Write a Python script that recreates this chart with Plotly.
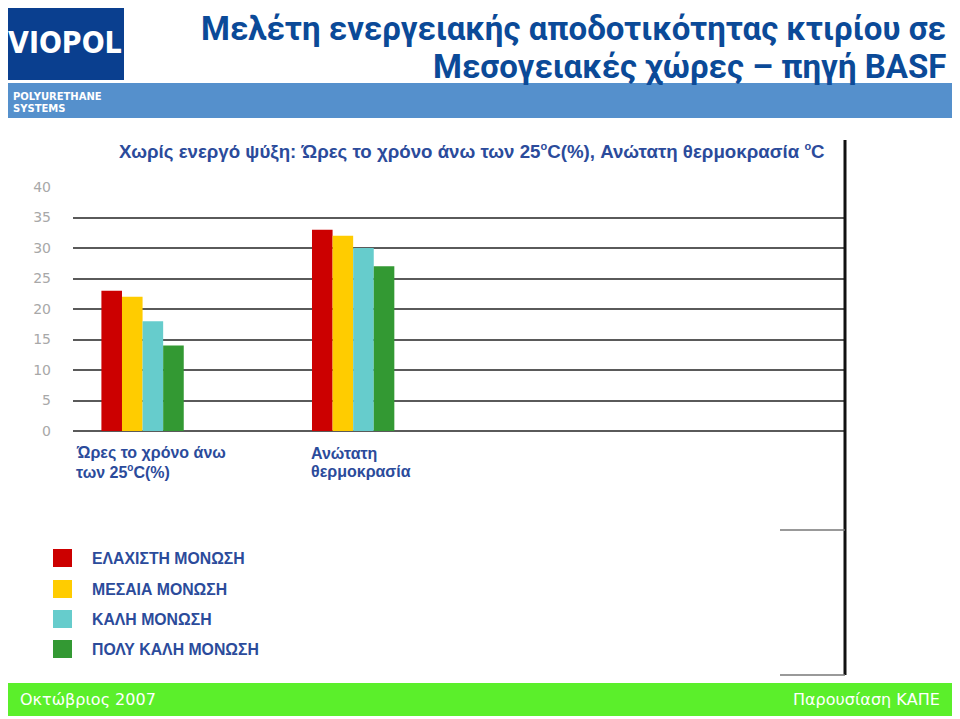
import plotly.graph_objects as go

# ---------------- data ----------------
categories = [["Ώρες το χρόνο άνω", "των 25<sup><span style='font-size:10px'>o</span></sup>C(%)"],
              ["Ανώτατη", "θερμοκρασία"]]
series_names = ["ΕΛΑΧΙΣΤΗ ΜΟΝΩΣΗ", "ΜΕΣΑΙΑ ΜΟΝΩΣΗ", "ΚΑΛΗ ΜΟΝΩΣΗ", "ΠΟΛΥ ΚΑΛΗ ΜΟΝΩΣΗ"]
elaxisti = [23, 33]
mesaia = [22, 32]
kali = [18, 30]
poly_kali = [14, 27]
series_values = [elaxisti, mesaia, kali, poly_kali]
series_colors = ["#CC0000", "#FFCC00", "#66CCCC", "#339933"]
y_ticks = [0, 5, 10, 15, 20, 25, 30, 35, 40]

title_line1 = "Μελέτη ενεργειακής αποδοτικότητας κτιρίου σε"
title_line2 = "Μεσογειακές χώρες – πηγή BASF"
SUP_O = "<sup><span style='font-size:11px'>o</span></sup>"
subtitle = "Χωρίς ενεργό ψύξη: Ώρες το χρόνο άνω των 25" + SUP_O + "C(%), Ανώτατη θερμοκρασία " + SUP_O + "C"
footer_left = "Οκτώβριος 2007"
footer_right = "Παρουσίαση ΚΑΠΕ"

# ---------------- geometry helpers ----------------
# The page body adds an 8px offset, so the figure is 8px smaller and shifted.
OFF = 8
W, H = 960 - OFF, 719 - OFF
L, R, T, B = 73, 845, 187, 431   # plot area in reference (screen) pixels


def px(x):
    return (x - L) / (R - L)


def py(y):
    return (B - y) / (B - T)


BLUE_TXT = "#2B4B9B"
TITLE_BLUE = "#0B4A98"
TXT_FONT = "Liberation Sans, Arial"

fig = go.Figure()
x_idx = list(range(len(categories)))
for name, vals, col in zip(series_names, series_values, series_colors):
    fig.add_trace(go.Bar(x=x_idx, y=vals, name=name, marker=dict(color=col, line=dict(width=0)),
                         showlegend=False))

shapes = []
annotations = []

# top light-blue band
shapes.append(dict(type="rect", xref="paper", yref="paper", x0=px(0), x1=px(957), y0=py(83), y1=py(118),
                   fillcolor="#5590CC", line=dict(width=0), layer="below"))
# logo box
shapes.append(dict(type="rect", xref="paper", yref="paper", x0=px(3), x1=px(124), y0=py(2), y1=py(80),
                   fillcolor="#0A3F8F", line=dict(width=0), layer="below"))
# footer band
shapes.append(dict(type="rect", xref="paper", yref="paper", x0=px(0), x1=px(960), y0=py(683), y1=py(716),
                   fillcolor="#5BEF2B", line=dict(width=0), layer="below"))
# right black frame line
shapes.append(dict(type="line", xref="paper", yref="paper", x0=px(845), x1=px(845), y0=py(140), y1=py(675),
                   line=dict(color="#111111", width=3)))
# short frame lines on right
for yy in (530, 675):
    shapes.append(dict(type="line", xref="paper", yref="paper", x0=px(780), x1=px(845), y0=py(yy), y1=py(yy),
                       line=dict(color="#777777", width=1.5)))

# logo text
annotations.append(dict(text="<b>VIOPOL</b>", xref="paper", yref="paper", x=px(65), y=py(42),
                        xanchor="center", yanchor="middle", showarrow=False,
                        font=dict(family="DejaVu Sans Condensed, DejaVu Sans", size=30, color="white")))
annotations.append(dict(text="<b>POLYURETHANE</b>", xref="paper", yref="paper", x=px(11), y=py(96),
                        xanchor="left", yanchor="middle", showarrow=False,
                        font=dict(family="DejaVu Sans", size=10, color="white")))
annotations.append(dict(text="<b>SYSTEMS</b>", xref="paper", yref="paper", x=px(11), y=py(108),
                        xanchor="left", yanchor="middle", showarrow=False,
                        font=dict(family="DejaVu Sans", size=10, color="white")))

# title
for line, yy in ((title_line1, 28), (title_line2, 67)):
    annotations.append(dict(text="<b>" + line + "</b>", xref="paper", yref="paper", x=px(948), y=py(yy),
                            xanchor="right", yanchor="middle", showarrow=False,
                            font=dict(family="Roboto", size=33, color=TITLE_BLUE)))
# subtitle
annotations.append(dict(text="<b>" + subtitle + "</b>", xref="paper", yref="paper", x=px(117), y=py(151),
                        xanchor="left", yanchor="middle", showarrow=False,
                        font=dict(family=TXT_FONT, size=18.7, color=BLUE_TXT)))

# category labels (left aligned under groups, one annotation per line)
cat_left_px = [74, 309]
cat_line_y = [453, 471]
for lines, lx in zip(categories, cat_left_px):
    for ln, ly in zip(lines, cat_line_y):
        annotations.append(dict(text="<b>" + ln + "</b>", xref="paper", yref="paper", x=px(lx), y=py(ly),
                                xanchor="left", yanchor="middle", align="left", showarrow=False,
                                font=dict(family=TXT_FONT, size=16, color=BLUE_TXT)))

# legend
leg_y = [558, 589, 619, 649]
for name, col, ly in zip(series_names, series_colors, leg_y):
    shapes.append(dict(type="rect", xref="paper", yref="paper", x0=px(53), x1=px(72), y0=py(ly - 9), y1=py(ly + 9),
                       fillcolor=col, line=dict(width=0)))
    annotations.append(dict(text="<b>" + name + "</b>", xref="paper", yref="paper", x=px(90), y=py(ly),
                            xanchor="left", yanchor="middle", showarrow=False,
                            font=dict(family=TXT_FONT, size=15.8, color=BLUE_TXT)))

# footer texts
annotations.append(dict(text=footer_left, xref="paper", yref="paper", x=px(18), y=py(699),
                        xanchor="left", yanchor="middle", showarrow=False,
                        font=dict(family="DejaVu Sans", size=16, color="white")))
annotations.append(dict(text=footer_right, xref="paper", yref="paper", x=px(942), y=py(699),
                        xanchor="right", yanchor="middle", showarrow=False,
                        font=dict(family="DejaVu Sans", size=16, color="white")))

fig.update_layout(
    width=W, height=H,
    margin=dict(l=L - OFF, r=(960 - R), t=T - OFF, b=(719 - B), pad=0),
    paper_bgcolor="white", plot_bgcolor="white",
    barmode="group", bargap=0.609, bargroupgap=0,
    shapes=shapes, annotations=annotations,
    showlegend=False,
    xaxis=dict(range=[-0.3304, 3.3356], visible=False, showgrid=False, zeroline=False),
    yaxis=dict(range=[0, 40], tickvals=y_ticks, showgrid=True, gridcolor="#5A5A5A", gridwidth=2,
               zeroline=True, zerolinecolor="#5A5A5A", zerolinewidth=2,
               ticks="", ticklabelstandoff=21, showline=False,
               tickfont=dict(family="DejaVu Sans", size=14, color="#A8A8A8")),
)

fig.write_html("out.html")
